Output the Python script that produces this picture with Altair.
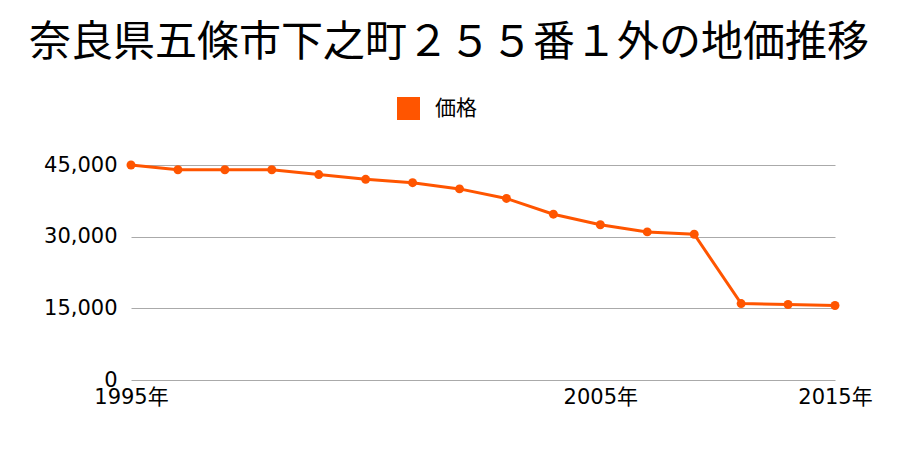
import altair as alt
import pandas as pd

years = ["1995", "1996", "1997", "1998", "1999", "2000", "2001", "2002",
         "2003", "2004", "2005", "2007", "2009", "2011", "2013", "2015"]
prices = [45000, 44000, 44000, 44000, 43000, 42000, 41300, 40000,
          38000, 34700, 32500, 31000, 30500, 16000, 15800, 15600]
series = ["価格"] * len(years)
shown_years = ["1995", "2005", "2015"]
y_ticks = [0, 15000, 30000, 45000]
title_text = "奈良県五條市下之町２５５番１外の地価推移"

df = pd.DataFrame({"year": years, "price": prices, "series": series})

FONT = "Noto Sans CJK JP"
NUMFONT = "DejaVu Sans, Noto Sans CJK JP"
COLOR = "#ff5500"

label_expr = "indexof(" + str(shown_years) + ", datum.value) >= 0 ? datum.value + '年' : ''"

x = alt.X("year:O", scale=alt.Scale(type="point", padding=0),
          axis=alt.Axis(title=None, labelAngle=0, ticks=False, domain=False, grid=False,
                        labelExpr=label_expr, labelOverlap=False, labelFontSize=21,
                        labelColor="#000", labelFont=NUMFONT, labelPadding=6))
y = alt.Y("price:Q", scale=alt.Scale(domain=[0, 45000], nice=False),
          axis=alt.Axis(title=None, values=y_ticks, format=",d", ticks=False, domain=False,
                        gridColor="#aaaaaa", gridWidth=1, labelFontSize=21,
                        labelColor="#000", labelFont=NUMFONT, labelPadding=14))
color = alt.Color("series:N", scale=alt.Scale(range=[COLOR]),
                  legend=alt.Legend(title=None, orient="none", legendX=266, legendY=-68,
                                    symbolType="square", symbolSize=529, symbolOpacity=1,
                                    symbolFillColor=COLOR, symbolStrokeWidth=0,
                                    labelFontSize=21, labelFont=FONT, labelColor="#000",
                                    labelOffset=15, padding=0))

base = alt.Chart(df)
line = base.mark_line(strokeWidth=3).encode(x=x, y=y, color=color)
pts = base.mark_circle(size=80, opacity=1).encode(x=x, y=y, color=color)

chart = (line + pts).properties(
    width=704, height=215,
    title=alt.TitleParams(title_text, font=FONT, fontSize=42, fontWeight="normal",
                          color="#000", anchor="middle", dx=-34, offset=32),
    padding={"left": 123, "top": 157, "right": 57, "bottom": 62},
    autosize=alt.AutoSizeParams(type="none"),
).configure_view(stroke=None)

chart.save("out.html", embed_options={"renderer": "svg", "actions": False})
